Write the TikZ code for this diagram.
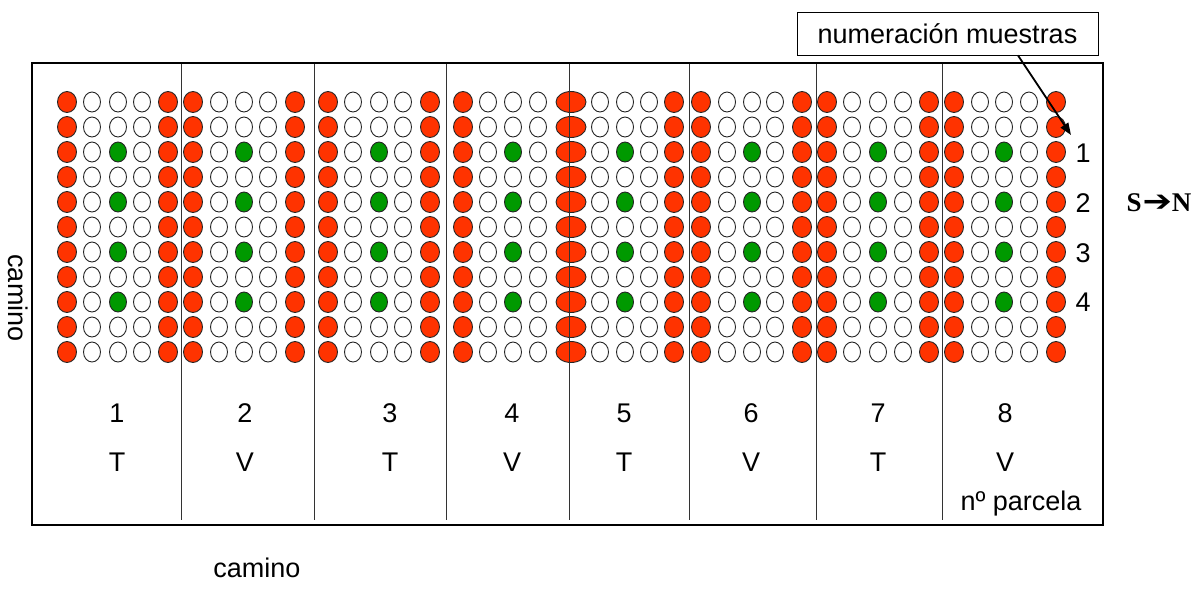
\documentclass[tikz,border=0pt]{standalone}
\usepackage{fontspec}
\setmainfont{Liberation Sans}
\newfontfamily\tnr{Liberation Serif}
\newfontfamily\flecha{DejaVu Sans}
\usetikzlibrary{arrows.meta}

\definecolor{rojo}{RGB}{255,51,0}
\definecolor{verde}{RGB}{0,153,0}

\begin{document}
\begin{tikzpicture}[x=1pt, y=-1pt,
  planta/.style={draw=black!85, line width=0.9pt},
  divisoria/.style={draw=black!80, line width=1pt},
  rotulo/.style={font=\fontsize{27}{32}\selectfont, inner sep=0pt}]
  \useasboundingbox (0,0) rectangle (1204,590);

  % plantas de borde
  \foreach \x in {67,168,193,295,328,430,463,674,701,802,827,929,954,1056}
    \foreach \y in {102,127,...,352}
      \filldraw[planta, fill=rojo] (\x,\y) ellipse (9.5pt and 10.5pt);
  \foreach \y in {102,127,...,352}
    \filldraw[planta, fill=rojo] (571,\y) ellipse (15pt and 10.5pt);

  % plantas interiores
  \foreach \x in {92,142,219,268,353,403,488,538,600,649,727,775,852,903,980,1029}
    \foreach \y in {102,127,...,352}
      \draw[planta, fill=white] (\x,\y) ellipse (8.5pt and 10pt);
  \foreach \x in {118,244,379,513,625,752,878,1004} {
    \foreach \y in {102,127,177,227,277,327,352}
      \draw[planta, fill=white] (\x,\y) ellipse (8.5pt and 10pt);
    \foreach \y in {152,202,252,302}
      \filldraw[planta, fill=verde] (\x,\y) ellipse (8.5pt and 10pt);
  }

  \foreach \x in {181,314,446,569,689,816,942}
    \draw[divisoria] (\x,63) -- (\x,520);
  \draw[line width=1.1pt] (32,63) rectangle (1103,525);

  \foreach \x/\n/\t in {117/1/T, 245/2/V, 390/3/T, 512/4/V, 624/5/T, 751/6/V, 878/7/T, 1005/8/V} {
    \node[rotulo] (num\n) at (\x,413) {\n};
    \node[rotulo] (trat\n) at (\x,462) {\t};
  }
  \node[rotulo] (parcela) at (1021,504) {nº parcela};

  \foreach \n/\y in {1/153, 2/203, 3/253, 4/302}
    \node[rotulo] (fila\n) at (1083,\y) {\n};

  \node[rotulo, draw, line width=0.8pt, minimum width=301pt, minimum height=43pt]
    (muestras) at (947.5,33.5) {numeración muestras};
  \coordinate (flechafin) at (1071,135);
  \draw[line width=1.8pt, -{Triangle[length=12pt, width=9pt]}]
    (1018,0 |- muestras.south) -- (flechafin);

  \node[rotulo, rotate=-90] (caminoizq) at (18,298) {camino};
  \node[rotulo] (caminoinf) at (257,568) {camino};
  \node[inner sep=0pt] (sentido) at (1159,203)
    {\fontsize{27}{32}\selectfont\tnr\bfseries S\hspace{1pt}{\flecha\bfseries\scalebox{1.3}[1.1]{➔}}N};
\end{tikzpicture}
\end{document}
